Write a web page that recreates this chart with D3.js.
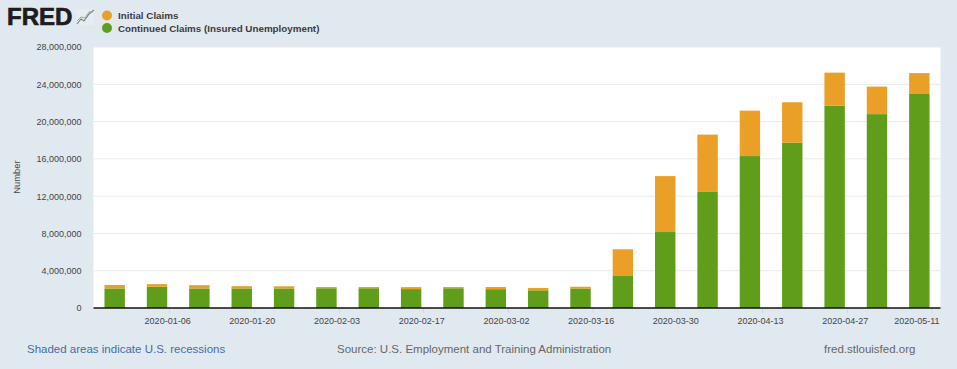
<!DOCTYPE html>
<html>
<head>
<meta charset="utf-8">
<script src="https://cdn.jsdelivr.net/npm/d3@7"></script>
<style>
  html, body { margin: 0; padding: 0; background: #e1e9f0; overflow: hidden; }
  svg { display: block; font-family: "Liberation Sans", Arial, sans-serif; }
</style>
</head>
<body>
<div id="chart"></div>
<script>
// weekly dates of the bars
const dates = ["2019-12-28","2020-01-04","2020-01-11","2020-01-18","2020-01-25","2020-02-01","2020-02-08",
  "2020-02-15","2020-02-22","2020-02-29","2020-03-07","2020-03-14","2020-03-21","2020-03-28","2020-04-04",
  "2020-04-11","2020-04-18","2020-04-25","2020-05-02","2020-05-09"];
const continued = [2100000,2280000,2100000,2100000,2100000,2120000,2120000,2030000,2120000,2020000,
  1900000,2100000,3430000,8150000,12450000,16300000,17730000,21700000,20800000,22960000];
const initial = [370000,280000,350000,240000,230000,130000,130000,210000,130000,230000,
  250000,180000,2870000,6000000,6150000,4870000,4340000,3550000,2950000,2240000];
const xTicks = ["2020-01-06","2020-01-20","2020-02-03","2020-02-17","2020-03-02","2020-03-16",
  "2020-03-30","2020-04-13","2020-04-27","2020-05-11"];
const yTicks = [0,4000000,8000000,12000000,16000000,20000000,24000000,28000000];
const seriesNames = ["Continued Claims (Insured Unemployment)","Initial Claims"];

const w = 957, h = 369;
const plotL = 93.5, plotR = 940.5, plotT = 47, plotB = 308;
const colors = { initial: "#ea9f27", continued: "#5f9d1a" };
const parse = d3.utcParse("%Y-%m-%d");
const fmt = d3.utcFormat("%Y-%m-%d");

const svg = d3.select("#chart").append("svg").attr("width", w).attr("height", h);

svg.append("rect").attr("x", plotL).attr("y", plotT).attr("width", plotR - plotL).attr("height", plotB - plotT).attr("fill", "#fff");

const x = d3.scaleUtc()
  .domain([d3.utcHour.offset(parse(dates[0]), -84), d3.utcHour.offset(parse(dates[dates.length - 1]), 84)])
  .range([plotL, plotR]);
const y = d3.scaleLinear().domain([0, 28000000]).range([plotB, plotT]);

// grid lines
svg.append("g").selectAll("line")
  .data(yTicks.slice(1))
  .join("line")
  .attr("x1", plotL).attr("x2", plotR)
  .attr("y1", d => y(d)).attr("y2", d => y(d))
  .attr("stroke", "#e8eaee");

// stacked bars
const rows = dates.map((d, i) => ({ date: parse(d), continued: continued[i], initial: initial[i] }));
const stack = d3.stack().keys(["continued", "initial"]);
const barW = 20.4;
svg.append("g").selectAll("g")
  .data(stack(rows))
  .join("g")
  .attr("fill", d => colors[d.key])
  .selectAll("rect")
  .data(d => d)
  .join("rect")
  .attr("x", d => x(d.data.date) - barW / 2)
  .attr("width", barW)
  .attr("y", d => y(d[1]))
  .attr("height", d => y(d[0]) - y(d[1]));

// y axis
const yAxis = svg.append("g")
  .attr("transform", `translate(${plotL},0)`)
  .call(d3.axisLeft(y).tickValues(yTicks).tickFormat(d3.format(",")).tickSize(0).tickPadding(12));
yAxis.select(".domain").remove();
yAxis.selectAll("text").attr("font-size", 9).attr("font-family", "inherit").attr("fill", "#444");

// x axis
const xAxis = svg.append("g")
  .attr("transform", `translate(0,${plotB})`)
  .call(d3.axisBottom(x).tickValues(xTicks.map(parse)).tickFormat(fmt).tickSize(5).tickPadding(5));
xAxis.select(".domain").remove();
xAxis.selectAll(".tick line").attr("stroke", "#ccd6eb");
xAxis.selectAll("text").attr("font-size", 9).attr("font-family", "inherit").attr("fill", "#444").attr("dx", -2);
// last label is pushed back inside the plot
xAxis.selectAll(".tick:last-of-type text").attr("text-anchor", "end").attr("dx", 0).attr("x", plotR - x(parse(xTicks[xTicks.length - 1])) - 1.5);

// zero line
svg.append("line").attr("x1", plotL).attr("x2", plotR).attr("y1", plotB).attr("y2", plotB)
  .attr("stroke", "#111").attr("stroke-width", 1.6);

svg.append("text")
  .attr("transform", "translate(20,177) rotate(-90)")
  .attr("text-anchor", "middle").attr("font-size", 9.4).attr("fill", "#444")
  .text("Number");

// logo
svg.append("text").attr("x", 7).attr("y", 25).attr("font-size", 24).attr("font-weight", "bold")
  .attr("fill", "#1d1d1d").attr("stroke", "#1d1d1d").attr("stroke-width", 0.7).text("FRED");
const logo = svg.append("g").attr("transform", "translate(76,9)");
logo.append("rect").attr("width", 18).attr("height", 16).attr("fill", "#e6ecf1");
logo.append("path").attr("d", d3.line()([[1,15],[5,10],[8,12],[13,5],[18,1]])).attr("fill", "none").attr("stroke", "#6f8f6a").attr("stroke-width", 1.2);
logo.append("path").attr("d", d3.line()([[1,12],[5,8],[9,9],[13,3],[17,3]])).attr("fill", "none").attr("stroke", "#9aa7b2").attr("stroke-width", 1);

// legend
const legend = svg.append("g").selectAll("g")
  .data([{ name: seriesNames[1], c: colors.initial, yy: 15.5 }, { name: seriesNames[0], c: colors.continued, yy: 28 }])
  .join("g");
legend.append("circle").attr("cx", 107).attr("cy", d => d.yy).attr("r", 5).attr("fill", d => d.c);
legend.append("text").attr("x", 118).attr("y", d => d.yy + 3.5)
  .attr("font-size", 9.8).attr("font-weight", "bold").attr("fill", "#3c3c3c").text(d => d.name);

// footer
const foot = [
  { t: "Shaded areas indicate U.S. recessions", xx: 27, c: "#3f6da5" },
  { t: "Source: U.S. Employment and Training Administration", xx: 337, c: "#666" },
  { t: "fred.stlouisfed.org", xx: 824, c: "#666" }
];
svg.append("g").selectAll("text").data(foot).join("text")
  .attr("x", d => d.xx).attr("y", 353).attr("font-size", 11.5).attr("fill", d => d.c).text(d => d.t);
</script>
</body>
</html>
